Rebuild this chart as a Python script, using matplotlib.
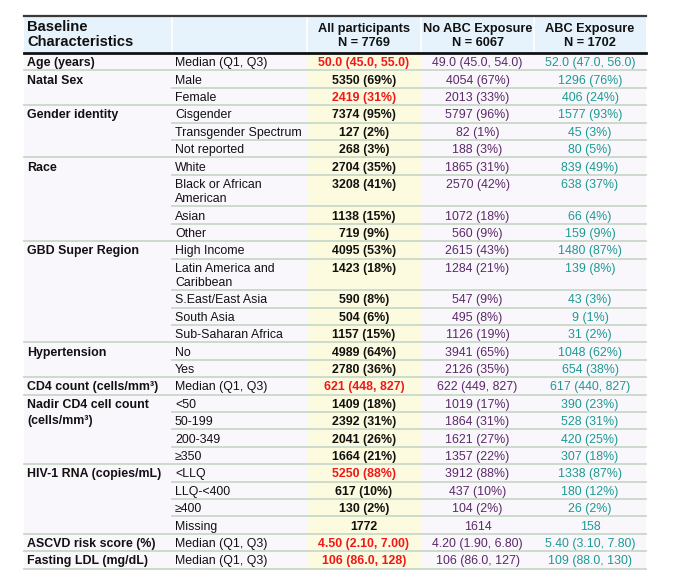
import matplotlib
matplotlib.use("Agg")
import matplotlib.pyplot as plt
from matplotlib.patches import Rectangle

plt.rcParams['font.family'] = ['Liberation Sans', 'DejaVu Sans']

# ---------------- data ----------------
header_first = "Baseline\nCharacteristics"
col_headers = ["All participants\nN = 7769", "No ABC Exposure\nN = 6067", "ABC Exposure\nN = 1702"]

groups = ["Age (years)", "Natal Sex", "", "Gender identity", "", "", "Race", "", "", "",
          "GBD Super Region", "", "", "", "", "Hypertension", "", "CD4 count (cells/mm³)",
          "Nadir CD4 cell count\n(cells/mm³)", "", "", "", "HIV-1 RNA (copies/mL)", "", "", "",
          "ASCVD risk score (%)", "Fasting LDL (mg/dL)"]

subgroups = ["Median (Q1, Q3)", "Male", "Female", "Cisgender", "Transgender Spectrum", "Not reported",
             "White", "Black or African\nAmerican", "Asian", "Other",
             "High Income", "Latin America and\nCaribbean", "S.East/East Asia", "South Asia",
             "Sub-Saharan Africa", "No", "Yes", "Median (Q1, Q3)",
             "<50", "50-199", "200-349", "≥350", "<LLQ", "LLQ-<400", "≥400", "Missing",
             "Median (Q1, Q3)", "Median (Q1, Q3)"]

all_participants = ["50.0 (45.0, 55.0)", "5350 (69%)", "2419 (31%)", "7374 (95%)", "127 (2%)", "268 (3%)",
                    "2704 (35%)", "3208 (41%)", "1138 (15%)", "719 (9%)",
                    "4095 (53%)", "1423 (18%)", "590 (8%)", "504 (6%)", "1157 (15%)",
                    "4989 (64%)", "2780 (36%)", "621 (448, 827)",
                    "1409 (18%)", "2392 (31%)", "2041 (26%)", "1664 (21%)",
                    "5250 (88%)", "617 (10%)", "130 (2%)", "1772",
                    "4.50 (2.10, 7.00)", "106 (86.0, 128)"]

no_abc = ["49.0 (45.0, 54.0)", "4054 (67%)", "2013 (33%)", "5797 (96%)", "82 (1%)", "188 (3%)",
          "1865 (31%)", "2570 (42%)", "1072 (18%)", "560 (9%)",
          "2615 (43%)", "1284 (21%)", "547 (9%)", "495 (8%)", "1126 (19%)",
          "3941 (65%)", "2126 (35%)", "622 (449, 827)",
          "1019 (17%)", "1864 (31%)", "1621 (27%)", "1357 (22%)",
          "3912 (88%)", "437 (10%)", "104 (2%)", "1614",
          "4.20 (1.90, 6.80)", "106 (86.0, 127)"]

abc = ["52.0 (47.0, 56.0)", "1296 (76%)", "406 (24%)", "1577 (93%)", "45 (3%)", "80 (5%)",
       "839 (49%)", "638 (37%)", "66 (4%)", "159 (9%)",
       "1480 (87%)", "139 (8%)", "43 (3%)", "9 (1%)", "31 (2%)",
       "1048 (62%)", "654 (38%)", "617 (440, 827)",
       "390 (23%)", "528 (31%)", "420 (25%)", "307 (18%)",
       "1338 (87%)", "180 (12%)", "26 (2%)", "158",
       "5.40 (3.10, 7.80)", "109 (88.0, 130)"]

highlighted = [0, 2, 17, 22, 26, 27]   # rows shown in red in the "All participants" column

# ---------------- style ----------------
W, H = 687, 581
col_edges = [24, 172, 307, 421, 534, 646]
header_top, header_bot = 16, 53
single_h, double_h = 17.4, 31.6
line_gap = 14.5
group_gap = 16.5

c_header_bg = "#e6f3fc"
c_body_bg = "#f9f7fc"
c_yellow = "#fdfbdf"
c_rule = "#c9d9c9"
c_red = "#f01818"
c_purple = "#5a2a68"
c_teal = "#1d9a92"
fs = 8.9

fig = plt.figure(figsize=(W / 100, H / 100), dpi=100)
ax = fig.add_axes([0, 0, 1, 1])
ax.set_xlim(0, W)
ax.set_ylim(H, 0)
ax.axis("off")

# row geometry
tops = []
y = header_bot
for s in subgroups:
    tops.append(y)
    y += double_h if "\n" in s else single_h
table_bot = y

# backgrounds
ax.add_patch(Rectangle((col_edges[0], header_top), col_edges[-1] - col_edges[0], header_bot - header_top,
                       facecolor=c_header_bg, edgecolor="none", zorder=0))
ax.add_patch(Rectangle((col_edges[0], header_bot), col_edges[-1] - col_edges[0], table_bot - header_bot,
                       facecolor=c_body_bg, edgecolor="none", zorder=0))
ax.add_patch(Rectangle((col_edges[2], header_bot), col_edges[3] - col_edges[2], table_bot - header_bot,
                       facecolor=c_yellow, edgecolor="none", zorder=0))
for xe in col_edges[1:-1]:
    ax.plot([xe, xe], [header_top, header_bot], color="white", lw=1.2, zorder=1)

# header
ax.text(col_edges[0] + 3, (header_top + header_bot) / 2, header_first, fontsize=10.6, fontweight="bold",
        ha="left", va="center", linespacing=1.15, color="#111111", zorder=3)
for i, h in enumerate(col_headers):
    cx = (col_edges[i + 2] + col_edges[i + 3]) / 2
    ax.text(cx, (header_top + header_bot) / 2 + 1.5, h, fontsize=9.2, fontweight="bold", ha="center",
            va="center", linespacing=1.2, color="#111111", zorder=3)
ax.plot([col_edges[0], col_edges[-1]], [header_top, header_top], color="#3a3a3a", lw=1.6, zorder=2)
ax.plot([col_edges[0], col_edges[-1]], [header_bot, header_bot], color="#111111", lw=2.0, zorder=4)

# body
centers = [(col_edges[j] + col_edges[j + 1]) / 2 for j in (2, 3, 4)]
for i, s in enumerate(subgroups):
    top = tops[i]
    h = double_h if "\n" in s else single_h
    bottom = top + h
    ty = top + 10.2
    if groups[i]:
        for k, ln in enumerate(groups[i].split("\n")):
            ax.text(col_edges[0] + 3, ty + k * group_gap, ln, fontsize=fs, fontweight="bold", ha="left",
                    va="center", color="#111111", zorder=3)
    for k, ln in enumerate(s.split("\n")):
        ax.text(col_edges[1] + 3, ty + k * line_gap, ln, fontsize=fs, ha="left", va="center",
                color="#111111", zorder=3)
    ax.text(centers[0], ty, all_participants[i], fontsize=fs, fontweight="bold", ha="center", va="center",
            color=c_red if i in highlighted else "#111111", zorder=3)
    ax.text(centers[1], ty, no_abc[i], fontsize=fs, ha="center", va="center", color=c_purple, zorder=3)
    ax.text(centers[2], ty, abc[i], fontsize=fs, ha="center", va="center", color=c_teal, zorder=3)
    # separators
    if i < len(subgroups) - 1:
        x0 = col_edges[0] if groups[i + 1] else col_edges[1]
        ax.plot([x0, col_edges[-1]], [bottom, bottom], color=c_rule, lw=1.3, zorder=2)
ax.plot([col_edges[0], col_edges[-1]], [table_bot, table_bot], color=c_rule, lw=1.3, zorder=2)

fig.savefig("out.png", dpi=100)
